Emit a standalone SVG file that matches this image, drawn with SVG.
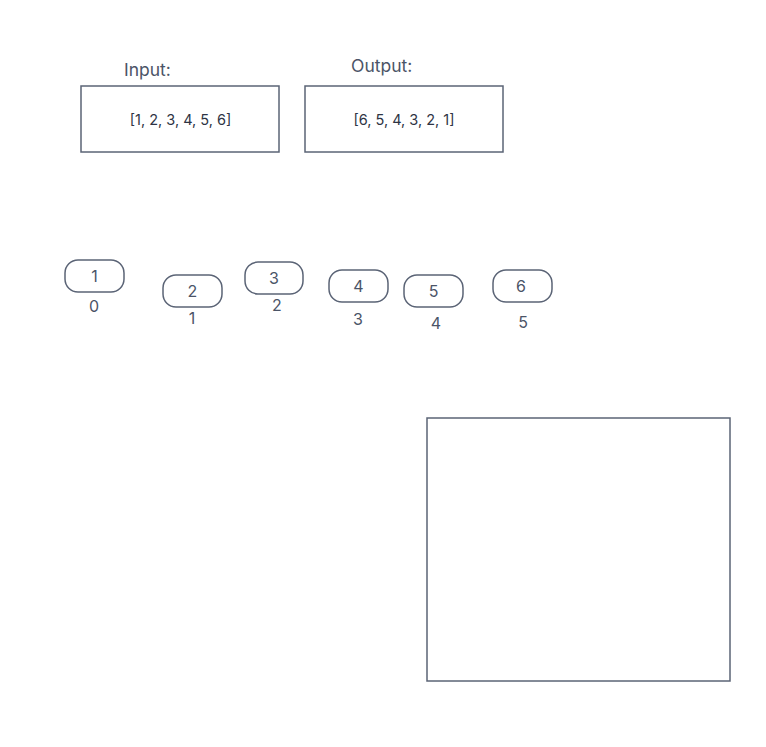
<svg xmlns="http://www.w3.org/2000/svg" width="766" height="747" viewBox="0 0 766 747">
<style>
.box{fill:#fff;stroke:#5b6476;stroke-width:1.5}
.pill{fill:#fff;stroke:#5b6476;stroke-width:1.5}
text{font-family:Inter,"Liberation Sans",sans-serif;fill:#4b5467}
.lbl{font-size:17.5px}
.arr{font-size:14.5px;fill:#2e3444}
.num{font-size:16px;text-anchor:middle}
</style>
<rect width="766" height="747" fill="#fff"/>
<g id="input">
<text class="lbl" x="124" y="76">Input:</text>
<rect class="box" x="81" y="86" width="198" height="66"/>
<text class="arr" x="180.5" y="125" text-anchor="middle">[1, 2, 3, 4, 5, 6]</text>
</g>
<g id="output">
<text class="lbl" x="351" y="72">Output:</text>
<rect class="box" x="305" y="86" width="198" height="66"/>
<text class="arr" x="404" y="125" text-anchor="middle">[6, 5, 4, 3, 2, 1]</text>
</g>
<g id="n1"><rect class="pill" x="65" y="260" width="59" height="32" rx="13"/><text class="num" x="94.5" y="282">1</text><text class="num" x="94" y="312">0</text></g>
<g id="n2"><rect class="pill" x="163" y="275" width="59" height="32" rx="13"/><text class="num" x="192.5" y="297">2</text><text class="num" x="192" y="324">1</text></g>
<g id="n3"><rect class="pill" x="245" y="262" width="58" height="32" rx="13"/><text class="num" x="274" y="284">3</text><text class="num" x="277" y="311">2</text></g>
<g id="n4"><rect class="pill" x="329" y="270" width="59" height="32" rx="13"/><text class="num" x="358.5" y="292">4</text><text class="num" x="358" y="325">3</text></g>
<g id="n5"><rect class="pill" x="404" y="275" width="59" height="32" rx="13"/><text class="num" x="433.5" y="297">5</text><text class="num" x="436" y="329">4</text></g>
<g id="n6"><rect class="pill" x="493" y="270" width="59" height="32" rx="13"/><text class="num" x="521" y="292">6</text><text class="num" x="523" y="328">5</text></g>
<g id="connectors"></g>
<g id="panel"><rect class="box" x="427" y="418" width="303" height="263"/></g>
</svg>
